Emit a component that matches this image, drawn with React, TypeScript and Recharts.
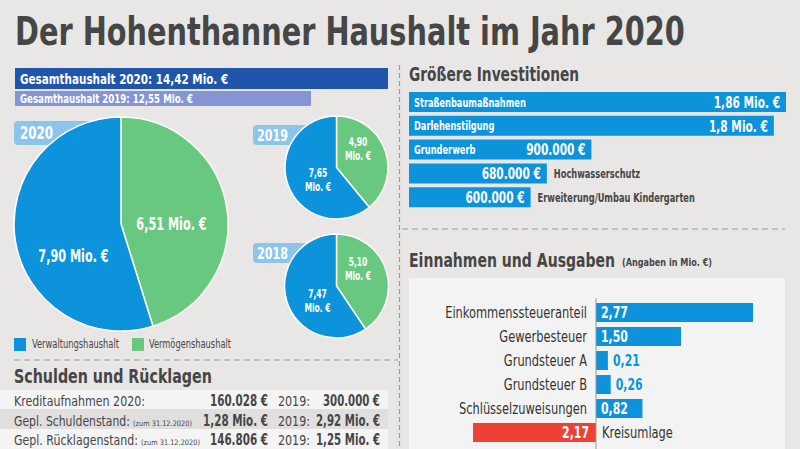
import React from 'react';
import { BarChart, Bar, XAxis, YAxis, PieChart, Pie, Cell, LabelList, ReferenceLine } from 'recharts';

// ---------- data ----------
const titleText = 'Der Hohenthanner Haushalt im Jahr 2020';

const totalNames = ['Gesamthaushalt 2020', 'Gesamthaushalt 2019'];
const totalValues = [14.42, 12.55];

const pieYears = ['2020', '2019', '2018'];
const pieSeries = ['Vermögenshaushalt', 'Verwaltungshaushalt'];
const vermoegen = [6.51, 4.9, 5.1];
const verwaltung = [7.9, 7.65, 7.47];

const investNames = ['Straßenbaumaßnahmen', 'Darlehenstilgung', 'Grunderwerb', 'Hochwasserschutz', 'Erweiterung/Umbau Kindergarten'];
const investValues = [1.86, 1.8, 0.9, 0.68, 0.6];

const ieNames = ['Einkommenssteueranteil', 'Gewerbesteuer', 'Grundsteuer A', 'Grundsteuer B', 'Schlüsselzuweisungen', 'Kreisumlage'];
const ieValues = [2.77, 1.5, 0.21, 0.26, 0.82, -2.17];

const debtLabels = ['Kreditaufnahmen 2020:', 'Gepl. Schuldenstand:', 'Gepl. Rücklagenstand:'];
const debtNotes = ['', '(zum 31.12.2020)', '(zum 31.12.2020)'];
const debt2020 = ['160.028 €', '1,28 Mio. €', '146.806 €'];
const debt2019 = ['300.000 €', '2,92 Mio. €', '1,25 Mio. €'];

// ---------- style ----------
const FONT = "'DejaVu Sans Condensed', 'DejaVu Sans', sans-serif";
const BG = '#e8e7e5';
const DARK = '#464646';
const BLUE = '#0c93dc';
const GREEN = '#68c880';
const RED = '#ee4136';
const NAVY = '#1f55ab';
const LAVENDER = '#8594d3';
const TAG = '#8cc5ec';
const PANEL = '#f3f3f3';
const totalAxisMin = 5.36;
const totalLabelWidths = [208, 173];
const SQUEEZE_BOLD = 0.735;
const SQUEEZE_REG = 0.77;

const fmt = (v: number, d = 2) => Math.abs(v).toFixed(d).replace('.', ',');
const fmtInvest = (v: number) =>
  v >= 1 ? `${String(v).replace('.', ',')} Mio. €` : `${Math.round(v * 1000)}.000 €`;

// Text drawn with a horizontal squeeze (condensed look). With `w`, the squeeze fits the text to that width.
const Txt = ({ x, y, children, size = 12, weight = 400, fill = DARK, anchor = 'start', w }: any) => {
  const ref = React.useRef<SVGTextElement>(null);
  const [k, setK] = React.useState(weight >= 700 ? SQUEEZE_BOLD : SQUEEZE_REG);
  React.useLayoutEffect(() => {
    if (w && ref.current) {
      const n = ref.current.getComputedTextLength();
      if (n > 0) setK(w / n);
    }
  }, [w, children, size]);
  return (
    <text
      ref={ref}
      x={0}
      y={0}
      transform={`translate(${x},${y}) scale(${k},1)`}
      fontSize={size}
      fontWeight={weight}
      fill={fill}
      textAnchor={anchor}
      fontFamily={FONT}
    >
      {children}
    </text>
  );
};

// pie geometry (centre x, centre y, radius) and label anchor offsets
const pieGeom = [
  { cx: 121, cy: 224, r: 107, size: 17 },
  { cx: 336.5, cy: 167.5, r: 51.5, size: 11.5 },
  { cx: 336.5, cy: 286, r: 52, size: 11.5 },
];
const pieLabelOffsets = [
  [[50.5, 0], [-47.5, 32]],
  [[21.5, -18.5], [-18.5, 12.5]],
  [[21.5, -17], [-19, 15]],
];
const PIE_LINE = 13.5;

const Background = () => (
  <svg width={800} height={449} style={{ position: 'absolute', left: 0, top: 0 }}>
    <rect x={0} y={0} width={800} height={449} fill={BG} />
    <Txt x={15} y={45} size={39} weight={700} w={670}>{titleText}</Txt>

    {/* dividers */}
    <line x1={399.5} y1={65} x2={399.5} y2={449} stroke="#9a9a9a" strokeWidth={1.2} strokeDasharray="5 3" />
    <line x1={14} y1={360} x2={398} y2={360} stroke="#9a9a9a" strokeWidth={1.2} strokeDasharray="6 4" />
    <line x1={402} y1={229} x2={785} y2={229} stroke="#9a9a9a" strokeWidth={1.2} strokeDasharray="6 4" />

    {/* year tags */}
    <rect x={14} y={121} width={90} height={24} rx={4} fill={TAG} />
    <Txt x={20} y={139} size={18} weight={700} fill="#fff" w={33}>{pieYears[0]}</Txt>
    <rect x={253} y={125} width={60} height={20} rx={4} fill={TAG} />
    <Txt x={257} y={141} size={16} weight={700} fill="#fff" w={31}>{pieYears[1]}</Txt>
    <rect x={253} y={243} width={60} height={20} rx={4} fill={TAG} />
    <Txt x={257} y={259} size={16} weight={700} fill="#fff" w={31}>{pieYears[2]}</Txt>

    {/* legend */}
    <rect x={14} y={338} width={12} height={13} fill={BLUE} />
    <Txt x={32} y={348} size={12.5} w={87}>{pieSeries[1]}</Txt>
    <rect x={132} y={338} width={12} height={13} fill={GREEN} />
    <Txt x={149} y={348} size={12.5} w={82}>{pieSeries[0]}</Txt>

    {/* Schulden und Rücklagen */}
    <Txt x={14} y={383} size={20} weight={700} w={198}>Schulden und Rücklagen</Txt>
    <rect x={0} y={390} width={388} height={19} fill="#f4f4f4" />
    <rect x={0} y={409} width={388} height={20} fill="#e0dfde" />
    <rect x={0} y={429} width={388} height={20} fill="#f4f4f4" />
    {debtLabels.map((l, i) => {
      const y = 406 + i * 19.5;
      const lw = [131, 116, 124][i];
      const v1w = [58, 65, 58][i];
      const v2w = [57, 64, 64][i];
      return (
        <g key={l}>
          <Txt x={14} y={y} size={14.5} w={lw}>{l}</Txt>
          {debtNotes[i] && (
            <Txt x={14 + lw + 3} y={y} size={7.5} w={59}>{debtNotes[i]}</Txt>
          )}
          <Txt x={268 - v1w} y={y} size={15} weight={700} w={v1w}>{debt2020[i]}</Txt>
          <Txt x={278} y={y} size={14.5} w={32}>2019:</Txt>
          <Txt x={380 - v2w} y={y} size={15} weight={700} w={v2w}>{debt2019[i]}</Txt>
        </g>
      );
    })}

    {/* right titles */}
    <Txt x={409} y={81} size={19} weight={700} w={170}>Größere Investitionen</Txt>
    <Txt x={409} y={267} size={19} weight={700} w={206}>Einnahmen und Ausgaben</Txt>
    <Txt x={622} y={266} size={10} weight={700} w={90}>(Angaben in Mio. €)</Txt>
    <rect x={409} y={278} width={376} height={171} fill={PANEL} />
  </svg>
);

const TotalBar = ({ i, top, height, color, size }: any) => (
  <div style={{ position: 'absolute', left: 15, top }}>
    <BarChart
      width={373}
      height={height}
      data={[{ name: totalNames[i], value: totalValues[i] }]}
      layout="vertical"
      margin={{ top: 0, right: 0, bottom: 0, left: 0 }}
      barCategoryGap={0}
    >
      <XAxis type="number" hide domain={[totalAxisMin, totalValues[0]]} allowDataOverflow />
      <YAxis type="category" dataKey="name" hide />
      <Bar dataKey="value" fill={color} isAnimationActive={false}>
        <LabelList
          dataKey="value"
          content={(p: any) => (
            <Txt x={p.x + 5} y={p.y + p.height / 2 + size * 0.36} size={size} weight={700} fill="#fff" w={totalLabelWidths[i]}>
              {`${totalNames[i]}: ${fmt(p.value)} Mio. €`}
            </Txt>
          )}
        />
      </Bar>
    </BarChart>
  </div>
);

const investData = investNames.map((n, i) => ({ name: n, value: investValues[i] }));
const ieData = ieNames.map((n, i) => ({ name: n, value: ieValues[i] }));

const pieLabel = (pi: number) => (p: any) => {
  const g = pieGeom[pi];
  const [dx, dy] = pieLabelOffsets[pi][p.index];
  const cx = (p.cx ?? g.cx) + dx;
  const cy = (p.cy ?? g.cy) + dy;
  if (pi === 0) {
    return (
      <g key={`l${pi}-${p.index}`}>
        <Txt x={cx} y={cy + g.size * 0.36} size={g.size} weight={700} fill="#fff" anchor="middle">
          {`${fmt(p.value)} Mio. €`}
        </Txt>
      </g>
    );
  }
  return (
    <g key={`l${pi}-${p.index}`}>
      <Txt x={cx} y={cy - PIE_LINE / 2 + g.size * 0.36} size={g.size} weight={700} fill="#fff" anchor="middle">{fmt(p.value)}</Txt>
      <Txt x={cx} y={cy + PIE_LINE / 2 + g.size * 0.36} size={g.size} weight={700} fill="#fff" anchor="middle">Mio. €</Txt>
    </g>
  );
};

export default function App() {
  return (
    <div style={{ position: 'absolute', left: 0, top: 0, width: 800, height: 449, overflow: 'hidden', fontFamily: FONT }}>
      <Background />

      {/* Gesamthaushalt bars */}
      <TotalBar i={0} top={68} height={21} color={NAVY} size={14} />
      <TotalBar i={1} top={91} height={15} color={LAVENDER} size={11.5} />

      {/* Pies */}
      <div style={{ position: 'absolute', left: 0, top: 0 }}>
        <PieChart width={400} height={360} margin={{ top: 0, right: 0, bottom: 0, left: 0 }}>
          {pieYears.map((y, pi) => (
            <Pie
              key={y}
              data={[
                { name: pieSeries[0], value: vermoegen[pi] },
                { name: pieSeries[1], value: verwaltung[pi] },
              ]}
              dataKey="value"
              cx={pieGeom[pi].cx}
              cy={pieGeom[pi].cy}
              outerRadius={pieGeom[pi].r}
              startAngle={90}
              endAngle={-270}
              stroke="#fff"
              strokeWidth={1.5}
              label={pieLabel(pi)}
              labelLine={false}
              isAnimationActive={false}
            >
              <Cell fill={GREEN} />
              <Cell fill={BLUE} />
            </Pie>
          ))}
        </PieChart>
      </div>

      {/* Größere Investitionen */}
      <div style={{ position: 'absolute', left: 409, top: 90 }}>
        <BarChart width={377} height={119} data={investData} layout="vertical" margin={{ top: 0, right: 0, bottom: 0, left: 0 }} barSize={20}>
          <XAxis type="number" hide domain={[0, investValues[0]]} />
          <YAxis type="category" dataKey="name" hide />
          <Bar dataKey="value" fill={BLUE} isAnimationActive={false}>
            <LabelList
              dataKey="value"
              content={(p: any) => {
                const inside = p.width > 150;
                const ty = p.y + p.height / 2;
                return (
                  <g>
                    <Txt x={inside ? p.x + 5 : p.x + p.width + 7} y={ty + 12.5 * 0.36} size={12.5} weight={700} fill={inside ? '#fff' : DARK}>
                      {investNames[p.index]}
                    </Txt>
                    <Txt x={p.x + p.width - 6} y={ty + 16 * 0.36} size={16} weight={700} fill="#fff" anchor="end">
                      {fmtInvest(p.value)}
                    </Txt>
                  </g>
                );
              }}
            />
          </Bar>
        </BarChart>
      </div>

      {/* Einnahmen und Ausgaben */}
      <div style={{ position: 'absolute', left: 409, top: 298 }}>
        <BarChart width={376} height={151} data={ieData} layout="vertical" margin={{ top: 0, right: 32, bottom: 0, left: 64 }} barSize={19}>
          <XAxis type="number" hide domain={[ieValues[5], ieValues[0]]} />
          <YAxis type="category" dataKey="name" hide padding={{ top: 2, bottom: 5 }} />
          <ReferenceLine x={0} stroke="#9a9a9a" strokeWidth={1} />
          <Bar dataKey="value" isAnimationActive={false}>
            {ieData.map((d) => (
              <Cell key={d.name} fill={d.value < 0 ? RED : BLUE} />
            ))}
            <LabelList
              dataKey="value"
              content={(p: any) => {
                const v = ieValues[p.index];
                const left = Math.min(p.x, p.x + p.width);
                const right = Math.max(p.x, p.x + p.width);
                const w = right - left;
                const ty = p.y + p.height / 2 + 16 * 0.36;
                if (v >= 0) {
                  const inside = w > 30;
                  return (
                    <g>
                      <Txt x={left - 9} y={ty} size={16.5} fill="#333" anchor="end">{ieNames[p.index]}</Txt>
                      <Txt x={inside ? left + 5 : right + 5} y={ty} size={16.5} weight={700} fill={inside ? '#fff' : BLUE}>{fmt(v)}</Txt>
                    </g>
                  );
                }
                return (
                  <g>
                    <Txt x={right - 7} y={ty} size={16.5} weight={700} fill="#fff" anchor="end">{fmt(v)}</Txt>
                    <Txt x={right + 6} y={ty} size={16.5} fill="#333">{ieNames[p.index]}</Txt>
                  </g>
                );
              }}
            />
          </Bar>
        </BarChart>
      </div>
    </div>
  );
}
